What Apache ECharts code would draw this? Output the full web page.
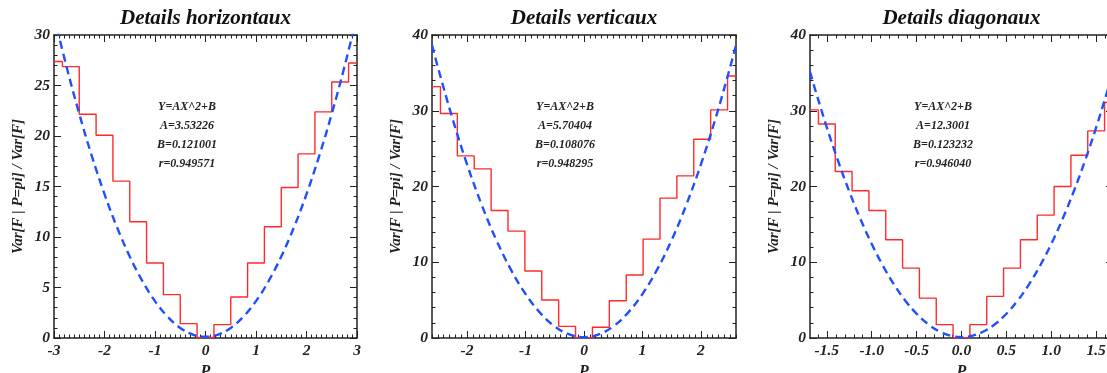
<!DOCTYPE html>
<html>
<head>
<meta charset="utf-8">
<script src="https://cdn.jsdelivr.net/npm/echarts@6/dist/echarts.min.js"></script>
<style>
html, body { margin: 0; padding: 0; overflow: hidden; background: #fff; }
#main { width: 1114px; height: 373px; }
</style>
</head>
<body>
<div id="main"></div>
<script>
// ---- data ----
const titles = ['Details horizontaux', 'Details verticaux', 'Details diagonaux']

// bin centres and binned variance ratio (red steps)
const binX1 = [-3, -2.6667, -2.3333, -2, -1.6667, -1.3333, -1, -0.6667, -0.3333, 0, 0.3333, 0.6667, 1, 1.3333, 1.6667, 2, 2.3333, 2.6667, 3]
const binY1 = [27.37, 26.87, 22.16, 20.08, 15.53, 11.51, 7.42, 4.29, 1.42, 0.05, 1.32, 4.06, 7.42, 11.01, 14.9, 18.23, 22.39, 25.35, 27.23]
const binX2 = [-2.6, -2.3111, -2.0222, -1.7333, -1.4444, -1.1556, -0.8667, -0.5778, -0.2889, 0, 0.2889, 0.5778, 0.8667, 1.1556, 1.4444, 1.7333, 2.0222, 2.3111, 2.6]
const binY2 = [33.19, 29.63, 24.04, 22.33, 16.84, 14.11, 8.84, 5.01, 1.54, 0.05, 1.41, 4.92, 8.31, 13.05, 18.46, 21.4, 26.24, 30.11, 34.59]
const binX3 = [-1.6875, -1.5, -1.3125, -1.125, -0.9375, -0.75, -0.5625, -0.375, -0.1875, 0, 0.1875, 0.375, 0.5625, 0.75, 0.9375, 1.125, 1.3125, 1.5, 1.6875]
const binY3 = [30.11, 28.26, 21.98, 19.43, 16.84, 12.97, 9.23, 5.27, 1.76, 0.05, 1.76, 5.49, 9.23, 12.97, 16.22, 20.0, 24.13, 27.34, 31.08]

// fitted parabola (blue dashes), sampled points
const fitX1 = [-3, -2.75, -2.5, -2.25, -2, -1.75, -1.5, -1.25, -1, -0.75, -0.5, -0.25, 0, 0.25, 0.5, 0.75, 1, 1.25, 1.5, 1.75, 2, 2.25, 2.5, 2.75, 3]
const fitY1 = [31.91, 26.83, 22.2, 18.0, 14.25, 10.94, 8.07, 5.64, 3.65, 2.11, 1.0, 0.34, 0.12, 0.34, 1.0, 2.11, 3.65, 5.64, 8.07, 10.94, 14.25, 18.0, 22.2, 26.83, 31.91]
const fitX2 = [-2.6, -2.5, -2.25, -2, -1.75, -1.5, -1.25, -1, -0.75, -0.5, -0.25, 0, 0.25, 0.5, 0.75, 1, 1.25, 1.5, 1.75, 2, 2.25, 2.5, 2.6]
const fitY2 = [38.67, 35.76, 28.99, 22.92, 17.58, 12.94, 9.02, 5.81, 3.32, 1.53, 0.47, 0.11, 0.47, 1.53, 3.32, 5.81, 9.02, 12.94, 17.58, 22.92, 28.99, 35.76, 38.67]
const fitX3 = [-1.6875, -1.625, -1.5, -1.375, -1.25, -1.125, -1, -0.875, -0.75, -0.625, -0.5, -0.375, -0.25, -0.125, 0, 0.125, 0.25, 0.375, 0.5, 0.625, 0.75, 0.875, 1, 1.125, 1.25, 1.375, 1.5, 1.625, 1.6875]
const fitY3 = [35.15, 32.6, 27.8, 23.38, 19.34, 15.69, 12.42, 9.54, 7.04, 4.93, 3.2, 1.85, 0.89, 0.32, 0.12, 0.32, 0.89, 1.85, 3.2, 4.93, 7.04, 9.54, 12.42, 15.69, 19.34, 23.38, 27.8, 32.6, 35.15]

const fitText1 = ['Y=AX^2+B', 'A=3.53226', 'B=0.121001', 'r=0.949571']
const fitText2 = ['Y=AX^2+B', 'A=5.70404', 'B=0.108076', 'r=0.948295']
const fitText3 = ['Y=AX^2+B', 'A=12.3001', 'B=0.123232', 'r=0.946040']

// axis ticks
const xTicks1 = [-3, -2, -1, 0, 1, 2, 3]
const xTicks2 = [-2, -1, 0, 1, 2]
const xTicks3 = [-1.5, -1.0, -0.5, 0.0, 0.5, 1.0, 1.5]
const yTicks1 = [0, 5, 10, 15, 20, 25, 30]
const yTicks2 = [0, 10, 20, 30, 40]
const yTicks3 = [0, 10, 20, 30, 40]

const FONT = 'Liberation Serif, DejaVu Serif, serif'
const INK = '#222'

function minorTicks(min, max, step) {
  const out = []
  for (let k = Math.ceil(min / step - 1e-9); k * step <= max + 1e-9; k++) out.push(+(k * step).toFixed(4))
  return out
}

function makeAxes(dim, g, min, max, major, minorStep, fmt) {
  const isX = dim === 'x'
  const lineStyle = { color: INK, width: 1.5 }
  const base = {
    type: 'value', gridIndex: g, min: min, max: max, scale: true,
    splitLine: { show: false },
    axisLine: { show: true, onZero: false, lineStyle: lineStyle }
  }
  const minor = minorTicks(min, max, minorStep)
  const majTick = { show: true, inside: true, length: 7, customValues: major, lineStyle: { color: INK, width: 1 } }
  const minTick = { show: true, inside: true, length: 3.5, customValues: minor, lineStyle: { color: INK, width: 1 } }
  const main = Object.assign({}, base, {
    position: isX ? 'bottom' : 'left',
    axisTick: majTick,
    axisLabel: {
      customValues: major, formatter: fmt, margin: isX ? 5 : 4,
      fontFamily: FONT, fontStyle: 'italic', fontWeight: 'bold', fontSize: 15.5, color: INK
    },
    name: isX ? 'P' : 'Var[F | P=pi] / Var[F]',
    nameLocation: 'middle',
    nameGap: isX ? 24 : 28,
    nameTextStyle: { fontFamily: FONT, fontStyle: 'italic', fontWeight: 'bold', fontSize: isX ? 16 : 15, color: INK }
  })
  const noLine = { show: false, onZero: false }
  const hidden = { show: false }
  return [
    main,
    Object.assign({}, base, { position: isX ? 'bottom' : 'left', axisLine: noLine, axisTick: minTick, axisLabel: hidden }),
    Object.assign({}, base, { position: isX ? 'top' : 'right', axisTick: majTick, axisLabel: hidden }),
    Object.assign({}, base, { position: isX ? 'top' : 'right', axisLine: noLine, axisTick: minTick, axisLabel: hidden })
  ]
}

const grids = [
  { left: 54, top: 35, width: 303, height: 303 },
  { left: 432, top: 35, width: 304, height: 303 },
  { left: 810, top: 35, width: 303, height: 303 }
]

const intFmt = v => String(Math.round(v))
const oneDec = v => v.toFixed(1)

const xAxis = [].concat(
  makeAxes('x', 0, -3, 3, xTicks1, 0.1, intFmt),
  makeAxes('x', 1, -2.6, 2.6, xTicks2, 0.1, intFmt),
  makeAxes('x', 2, -1.6875, 1.6875, xTicks3, 0.1, oneDec)
)
const yAxis = [].concat(
  makeAxes('y', 0, 0, 30, yTicks1, 1, intFmt),
  makeAxes('y', 1, 0, 40, yTicks2, 2, intFmt),
  makeAxes('y', 2, 0, 40, yTicks3, 2, intFmt)
)

const pairs = (xs, ys) => xs.map((x, i) => [x, ys[i]])
const bins = [[binX1, binY1], [binX2, binY2], [binX3, binY3]]
const fits = [[fitX1, fitY1], [fitX2, fitY2], [fitX3, fitY3]]
const texts = [fitText1, fitText2, fitText3]
const textX = [187, 565, 943]

const series = []
bins.forEach((b, g) => {
  series.push({
    type: 'line', step: 'middle', xAxisIndex: g * 4, yAxisIndex: g * 4,
    data: pairs(b[0], b[1]), showSymbol: false, clip: true,
    lineStyle: { color: '#ff2a2a', width: 1.4 }, z: 2
  })
  series.push({
    type: 'line', smooth: 0.4, xAxisIndex: g * 4, yAxisIndex: g * 4,
    data: pairs(fits[g][0], fits[g][1]), showSymbol: false, clip: true,
    lineStyle: { color: '#1f4fff', width: 2.4, type: [8, 5] }, z: 3
  })
})

const chart = echarts.init(document.getElementById('main'))
chart.setOption({
  animation: false,
  backgroundColor: '#fff',
  title: titles.map((t, g) => ({
    text: t, left: grids[g].left + grids[g].width / 2, top: 8, textAlign: 'center', padding: 0,
    textStyle: { fontFamily: FONT, fontStyle: 'italic', fontWeight: 'bold', fontSize: 21, color: '#111' }
  })),
  grid: grids.map(g => Object.assign({ outerBoundsMode: 'none', containLabel: false }, g)),
  xAxis: xAxis,
  yAxis: yAxis,
  graphic: texts.map((lines, g) => ({
    type: 'text', x: textX[g], y: 135,
    style: {
      text: lines.join('\n'), align: 'center', verticalAlign: 'middle', lineHeight: 19,
      font: 'italic bold 12px ' + FONT, fill: INK
    }
  })),
  series: series
})
</script>
</body>
</html>
